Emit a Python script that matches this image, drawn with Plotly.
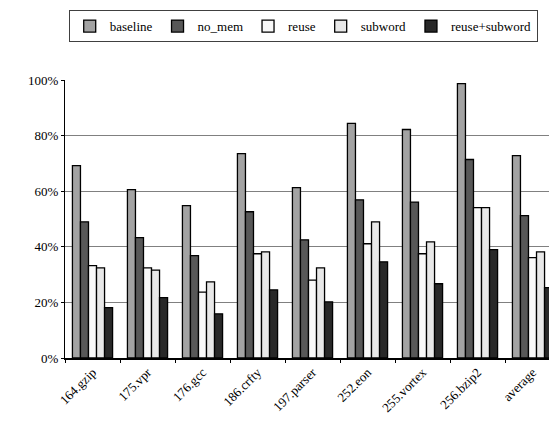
import plotly.graph_objects as go

categories = ["164.gzip", "175.vpr", "176.gcc", "186.crfty", "197.parser",
              "252.eon", "255.vortex", "256.bzip2", "average"]
baseline = [69.2, 60.6, 54.8, 73.5, 61.3, 84.4, 82.2, 98.7, 72.8]
no_mem = [49.0, 43.3, 36.8, 52.6, 42.5, 56.9, 56.1, 71.4, 51.2]
reuse = [33.2, 32.4, 23.7, 37.5, 28.0, 41.1, 37.5, 54.1, 36.1]
subword = [32.4, 31.6, 27.4, 38.2, 32.4, 49.0, 41.8, 54.1, 38.2]
reuse_subword = [18.1, 21.7, 15.9, 24.5, 20.2, 34.6, 26.7, 39.0, 25.3]

series = [
    ("baseline", baseline, "#a3a3a3"),
    ("no_mem", no_mem, "#585858"),
    ("reuse", reuse, "#f9f9f9"),
    ("subword", subword, "#e8e8e8"),
    ("reuse+subword", reuse_subword, "#282828"),
]

FONT = "Liberation Serif"

fig = go.Figure()
for name, vals, color in series:
    fig.add_trace(go.Bar(
        name=name, x=categories, y=[v / 100 for v in vals],
        marker=dict(color=color, line=dict(color="black", width=1.3)),
    ))

fig.update_layout(
    width=557, height=423,
    margin=dict(l=57, r=5, t=72, b=73),
    paper_bgcolor="white", plot_bgcolor="white",
    barmode="group", bargap=0.27, bargroupgap=0,
    font=dict(family=FONT, size=13, color="black"),
    legend=dict(
        orientation="h", x=0.53, xanchor="center", xref="container",
        y=0.995, yanchor="top", yref="container",
        bordercolor="#404040", borderwidth=1,
        font=dict(family=FONT, size=13, color="black"),
        itemwidth=30,
    ),
    showlegend=True,
)
fig.update_yaxes(
    range=[0, 1.0], dtick=0.2, tickformat=".0%",
    showgrid=True, gridcolor="#808080", gridwidth=1,
    showline=True, linecolor="black", linewidth=1.2,
    ticks="outside", ticklen=3, tickcolor="black",
    zeroline=False,
    tickfont=dict(family=FONT, size=13, color="black"),
)
fig.update_xaxes(
    showline=True, linecolor="black", linewidth=1.5,
    ticks="outside", tickson="boundaries", ticklen=3, tickcolor="black",
    tickangle=-45,
    tickfont=dict(family=FONT, size=13, color="black"),
)

fig.write_html("out.html")
